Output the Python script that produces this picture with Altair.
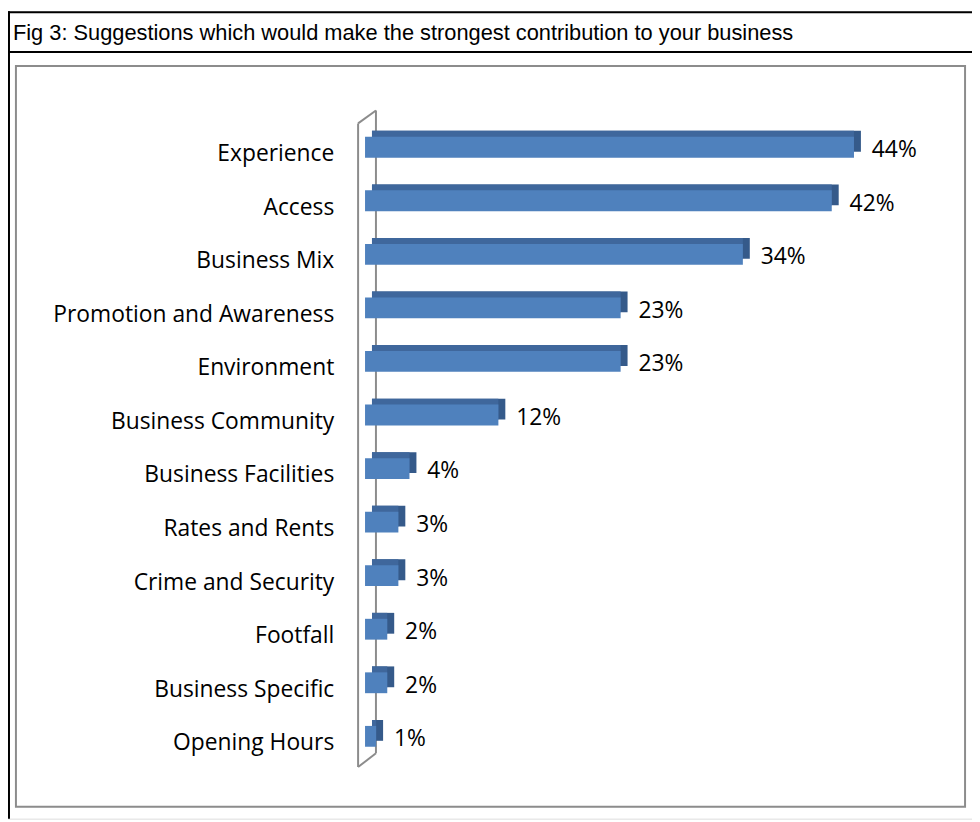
import altair as alt
import pandas as pd

categories = ["Experience", "Access", "Business Mix", "Promotion and Awareness",
              "Environment", "Business Community", "Business Facilities",
              "Rates and Rents", "Crime and Security", "Footfall",
              "Business Specific", "Opening Hours"]
values = [44, 42, 34, 23, 23, 12, 4, 3, 3, 2, 2, 1]
value_labels = [f"{v}%" for v in values]
title_text = "Fig 3: Suggestions which would make the strongest contribution to your business"

df = pd.DataFrame({"cat": categories, "v": values, "lab": value_labels, "zero": 0})

W, H = 972, 814
LABEL_FONT = "Open Sans"

xs = alt.Scale(domain=[0, 44], range=[360, 853], nice=False, zero=True)
ys = alt.Scale(domain=categories, range=[110, 758], paddingInner=0, paddingOuter=0)

X = alt.X("zero:Q", scale=xs, axis=None)
X2 = alt.X2("v")
Y = alt.Y("cat:N", scale=ys, axis=None, sort=categories)

one = alt.Data(values=[{"a": 1}])
GRAY = "#8C8C8C"

def rule(x, y, x2, y2, color, w):
    return alt.Chart(one).mark_rule(color=color, strokeWidth=w).encode(
        x=alt.value(x), y=alt.value(y), x2=alt.value(x2), y2=alt.value(y2))

# frames
outer_left = rule(1, 0, 1, H, "#000000", 2)
outer_top = rule(0, 1, W, 1, "#000000", 2)
sep = rule(0, 41, W, 41, "#000000", 2)
inner_box = alt.Chart(one).mark_rect(fill=None, stroke=GRAY, strokeWidth=2).encode(
    x=alt.value(8), y=alt.value(55), x2=alt.value(965), y2=alt.value(802))
title = alt.Chart(one).mark_text(text=title_text, font="Liberation Sans", fontSize=22,
                                 align="left", baseline="alphabetic", color="#000000").encode(
    x=alt.value(5), y=alt.value(29))

# wall
wall_back = rule(371, 100, 371, 748, GRAY, 2)
wall_front = rule(353, 113, 353, 762, GRAY, 2)
wall_top = rule(353, 113, 371, 100, GRAY, 2)
wall_bot = rule(353, 762, 371, 748, GRAY, 2)

base = alt.Chart(df)
side = base.mark_bar(size=21, color="#355A8A", xOffset=7, x2Offset=7, yOffset=-6).encode(x=X, x2=X2, y=Y)
top = base.mark_bar(size=21, color="#3F679C", xOffset=7, x2Offset=0, yOffset=-6).encode(x=X, x2=X2, y=Y)
front = base.mark_bar(size=21, color="#4F81BD").encode(x=X, x2=X2, y=Y)

cat_labels = base.mark_text(font=LABEL_FONT, fontSize=23, align="right", baseline="alphabetic",
                            dy=14, color="#000000").encode(
    x=alt.value(329), y=Y, text="cat:N")
val_labels = base.mark_text(font=LABEL_FONT, fontSize=23, align="left", baseline="alphabetic",
                            dy=10, dx=18, color="#000000").encode(
    x=alt.X("v:Q", scale=xs, axis=None), y=Y, text="lab:N")

chart = alt.layer(
    outer_left, outer_top, sep, inner_box, title,
    wall_back, side, top, front, wall_front, wall_top, wall_bot,
    cat_labels, val_labels
).properties(
    width=W, height=H, autosize=alt.AutoSizeParams(type="none"), padding=0
).configure_view(stroke=None).configure(background="white")

chart.save("out.html", embed_options={"renderer": "svg", "actions": False})
